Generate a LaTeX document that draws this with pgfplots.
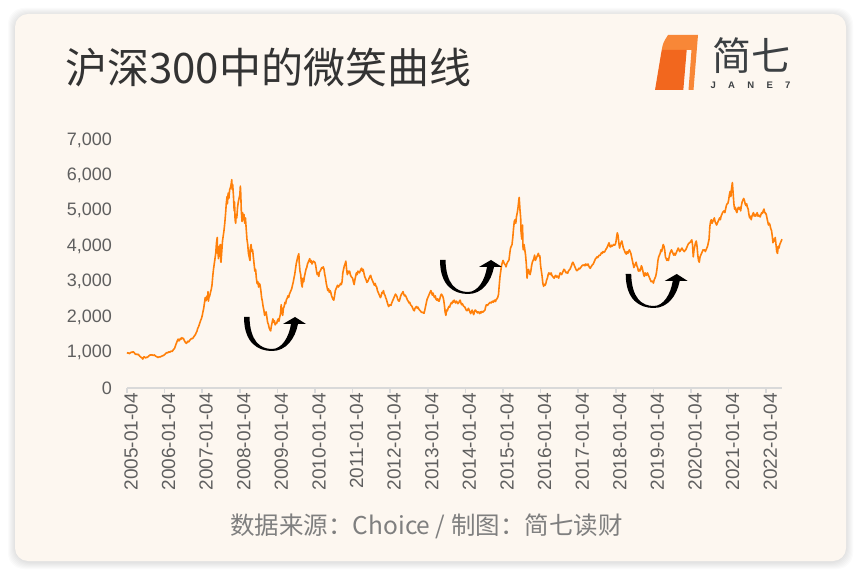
\documentclass[border=0pt]{standalone}
\usepackage{pgfplots}
\pgfplotsset{compat=1.18}
\usepackage{fontspec}
\setmainfont{Liberation Sans}
\newfontfamily\cjk{Noto Sans CJK SC}
\definecolor{cardbg}{RGB}{253,247,240}
\definecolor{lineor}{RGB}{255,128,10}
\definecolor{axgray}{RGB}{217,217,217}
\definecolor{lblgray}{RGB}{95,95,95}
\definecolor{titlec}{RGB}{51,51,51}
\definecolor{srcgray}{RGB}{127,127,127}
\definecolor{logoA}{RGB}{242,103,30}
\definecolor{logoB}{RGB}{248,135,55}
\definecolor{logotxt}{RGB}{60,64,67}
\begin{document}
\begin{tikzpicture}[x=1pt,y=1pt]
\path[use as bounding box] (0,0) rectangle (861,575);
\fill[white] (0,0) rectangle (861,575);
\foreach \i in {1,...,7} {
  \fill[black,opacity=0.014,rounded corners=16pt] (15-\i,14-\i-1) rectangle (846+\i,561+\i-1);
}
\fill[cardbg,rounded corners=13pt] (15,14) rectangle (846,561);
% title
\node[anchor=west,inner sep=0pt,text=titlec,font=\cjk\fontsize{42}{42}\selectfont] at (65,508) {沪深300中的微笑曲线};
% logo
\fill[logoB] (668,540) -- (698,540) -- (693.5,485) -- (688.5,485) -- (691.5,525) -- (661.7,525) .. controls (663,532) .. (668,540) -- cycle;
\fill[logoA] (661.7,525) -- (686.7,525) -- (683.3,485) -- (655,485) -- cycle;
\node[inner sep=0pt,text=logotxt,font=\cjk\fontsize{39}{39}\selectfont] at (751,519.5) {简七};
\node[inner sep=0pt,text=logotxt,font=\bfseries\fontsize{9.5}{9.5}\selectfont] at (750.5,490) {\makebox[80pt][s]{J\hfill A\hfill N\hfill E\hfill 7}};
% source
\node[inner sep=0pt,text=srcgray,font=\cjk\fontsize{24.5}{24.5}\selectfont] at (426.5,49) {数据来源：Choice / 制图：简七读财};
\begin{axis}[
  at={(127pt,187pt)}, anchor=south west, scale only axis,
  width=655pt, height=248pt,
  xmin=2005, xmax=2022.42, ymin=0, ymax=7000,
  axis x line=bottom, axis y line=left,
  x axis line style={-,draw=axgray,line width=1.6pt},
  y axis line style={draw=none},
  xtick={2005,2006,...,2022},
  xticklabels={2005-01-04,2006-01-04,2007-01-04,2008-01-04,2009-01-04,2010-01-04,2011-01-04,2012-01-04,2013-01-04,2014-01-04,2015-01-04,2016-01-04,2017-01-04,2018-01-04,2019-01-04,2020-01-04,2021-01-04,2022-01-04},
  ytick={0,1000,...,7000},
  xtick style={draw=axgray,line width=1.6pt},
  ytick style={draw=none},
  tick align=outside, major tick length=5pt,
  /pgf/number format/assume math mode=true,
  /pgf/number format/1000 sep={,},
  scaled y ticks=false,
  yticklabel style={font=\fontsize{18}{18}\selectfont,text=lblgray,inner sep=0pt,anchor=east,xshift=-10pt},
  xticklabel style={font=\fontsize{19}{19}\selectfont,text=lblgray,inner sep=0pt,rotate=90,anchor=east,yshift=-4pt},
  clip=false,
]
\addplot[color=lineor,line width=1.6pt,line join=round] coordinates {
(2005.00,1000)(2005.02,985)(2005.04,990)(2005.06,970)(2005.08,985)(2005.10,1000)(2005.12,1015)(2005.14,1000)(2005.16,1025)(2005.18,1010)
(2005.20,985)(2005.22,960)(2005.24,945)(2005.26,960)(2005.28,940)(2005.30,955)(2005.32,925)(2005.34,895)(2005.36,880)(2005.38,860)
(2005.40,845)(2005.42,815)(2005.44,870)(2005.46,880)(2005.48,860)(2005.50,850)(2005.52,870)(2005.54,865)(2005.56,880)(2005.58,905)
(2005.60,920)(2005.62,935)(2005.64,925)(2005.66,940)(2005.68,930)(2005.70,915)(2005.72,935)(2005.74,920)(2005.76,900)(2005.78,890)
(2005.80,880)(2005.82,860)(2005.84,870)(2005.86,880)(2005.88,875)(2005.90,885)(2005.92,900)(2005.94,905)(2005.96,915)(2005.98,925)
(2006.02,960)(2006.04,985)(2006.06,1000)(2006.08,990)(2006.10,1010)(2006.12,1025)(2006.14,1010)(2006.16,1030)(2006.18,1045)(2006.20,1030)
(2006.22,1060)(2006.24,1090)(2006.26,1110)(2006.28,1160)(2006.30,1230)(2006.32,1280)(2006.34,1340)(2006.36,1380)(2006.38,1330)(2006.40,1350)
(2006.42,1400)(2006.44,1380)(2006.46,1420)(2006.48,1390)(2006.50,1400)(2006.52,1350)(2006.54,1310)(2006.56,1280)(2006.58,1260)(2006.60,1290)
(2006.62,1320)(2006.64,1300)(2006.66,1330)(2006.68,1360)(2006.70,1380)(2006.72,1400)(2006.74,1390)(2006.76,1420)(2006.78,1450)(2006.80,1480)
(2006.82,1510)(2006.84,1560)(2006.86,1600)(2006.88,1680)(2006.90,1720)(2006.92,1780)(2006.94,1850)(2006.96,1910)(2006.98,1960)
(2007.00,2040)(2007.02,2150)(2007.04,2250)(2007.06,2400)(2007.08,2550)(2007.10,2460)(2007.12,2590)(2007.14,2500)(2007.155,2720)(2007.165,2450)
(2007.18,2560)(2007.20,2600)(2007.22,2700)(2007.24,2780)(2007.26,2900)(2007.28,3150)(2007.30,3350)(2007.32,3500)(2007.34,3650)(2007.36,3800)
(2007.38,4100)(2007.40,4250)(2007.41,3800)(2007.42,4000)(2007.43,3650)(2007.44,3850)(2007.46,3950)(2007.48,4050)(2007.49,3600)(2007.50,3550)
(2007.52,3850)(2007.54,4150)(2007.56,4300)(2007.58,4450)(2007.60,4650)(2007.62,4900)(2007.64,5200)(2007.66,5400)(2007.67,5200)(2007.69,5500)
(2007.71,5350)(2007.73,5600)(2007.75,5650)(2007.77,5750)(2007.785,5880)(2007.80,5600)(2007.81,5750)(2007.83,5450)(2007.85,5000)(2007.86,5250)
(2007.875,4750)(2007.89,4650)(2007.90,4900)(2007.92,4800)(2007.94,5100)(2007.96,5250)(2007.98,5350)
(2008.00,5450)(2008.015,5700)(2008.025,5500)(2008.04,5000)(2008.06,4700)(2008.075,4950)(2008.09,4750)(2008.11,4900)(2008.13,4650)(2008.15,4800)
(2008.17,4500)(2008.19,4200)(2008.21,4050)(2008.23,3800)(2008.25,3700)(2008.27,3600)(2008.28,3950)(2008.30,4050)(2008.32,3850)(2008.34,3900)
(2008.36,3700)(2008.38,3500)(2008.40,3300)(2008.42,3350)(2008.44,3100)(2008.46,2950)(2008.48,3000)(2008.50,2850)(2008.52,2950)(2008.54,2900)
(2008.56,2750)(2008.58,2550)(2008.60,2450)(2008.62,2300)(2008.64,2200)(2008.66,2050)(2008.68,2100)(2008.70,2150)(2008.72,2000)(2008.74,1850)
(2008.76,1800)(2008.78,1700)(2008.80,1650)(2008.82,1610)(2008.84,1750)(2008.86,1850)(2008.88,1950)(2008.90,1850)(2008.92,1900)(2008.94,1780)
(2008.96,1830)(2008.98,1820)
(2009.00,1900)(2009.02,1950)(2009.04,1880)(2009.06,2000)(2009.08,2080)(2009.10,2350)(2009.12,2150)(2009.14,2050)(2009.16,2250)(2009.18,2300)
(2009.20,2420)(2009.22,2380)(2009.24,2500)(2009.26,2530)(2009.28,2600)(2009.30,2560)(2009.32,2650)(2009.34,2700)(2009.36,2750)(2009.38,2800)
(2009.40,2900)(2009.42,2980)(2009.44,3100)(2009.46,3200)(2009.48,3350)(2009.50,3500)(2009.52,3600)(2009.54,3700)(2009.57,3790)(2009.58,3550)
(2009.60,3300)(2009.62,3200)(2009.64,2950)(2009.66,2850)(2009.68,3100)(2009.70,3000)(2009.72,3150)(2009.74,3250)(2009.76,3350)(2009.78,3400)
(2009.80,3500)(2009.82,3550)(2009.84,3600)(2009.86,3650)(2009.88,3550)(2009.90,3600)(2009.92,3500)(2009.94,3550)(2009.96,3580)(2009.98,3560)
(2010.00,3540)(2010.02,3450)(2010.04,3300)(2010.06,3200)(2010.08,3250)(2010.10,3150)(2010.12,3280)(2010.14,3300)(2010.16,3350)(2010.18,3400)
(2010.20,3380)(2010.22,3420)(2010.24,3350)(2010.26,3200)(2010.28,3100)(2010.30,2950)(2010.32,2850)(2010.34,2750)(2010.36,2800)(2010.38,2700)
(2010.40,2750)(2010.42,2700)(2010.44,2600)(2010.46,2550)(2010.48,2500)(2010.50,2480)(2010.52,2600)(2010.54,2750)(2010.56,2800)(2010.58,2850)
(2010.60,2900)(2010.62,2850)(2010.64,2880)(2010.66,2900)(2010.68,2950)(2010.70,2920)(2010.72,3000)(2010.74,3250)(2010.76,3350)(2010.78,3450)
(2010.80,3500)(2010.82,3580)(2010.84,3350)(2010.86,3200)(2010.88,3300)(2010.90,3250)(2010.92,3300)(2010.94,3200)(2010.96,3150)(2010.98,3120)
(2011.00,3100)(2011.02,3000)(2011.04,2920)(2011.06,3050)(2011.08,3150)(2011.10,3250)(2011.12,3200)(2011.14,3300)(2011.16,3270)(2011.18,3250)
(2011.20,3300)(2011.22,3350)(2011.24,3380)(2011.26,3300)(2011.28,3350)(2011.30,3250)(2011.32,3150)(2011.34,3100)(2011.36,3050)(2011.38,2980)
(2011.40,3000)(2011.42,3050)(2011.44,3100)(2011.46,3150)(2011.48,3180)(2011.50,3100)(2011.52,3050)(2011.54,3000)(2011.56,2950)(2011.58,2900)
(2011.60,2950)(2011.62,2880)(2011.64,2850)(2011.66,2750)(2011.68,2700)(2011.70,2650)(2011.72,2600)(2011.74,2550)(2011.76,2600)(2011.78,2700)
(2011.80,2680)(2011.82,2750)(2011.84,2650)(2011.86,2620)(2011.88,2550)(2011.90,2500)(2011.92,2420)(2011.94,2350)(2011.96,2300)(2011.98,2340)
(2012.00,2350)(2012.02,2330)(2012.04,2400)(2012.06,2450)(2012.08,2500)(2012.10,2550)(2012.12,2600)(2012.14,2650)(2012.16,2620)(2012.18,2580)
(2012.20,2500)(2012.22,2460)(2012.24,2450)(2012.26,2520)(2012.28,2600)(2012.30,2650)(2012.32,2680)(2012.34,2720)(2012.36,2650)(2012.38,2600)
(2012.40,2620)(2012.42,2580)(2012.44,2530)(2012.46,2480)(2012.48,2450)(2012.50,2400)(2012.52,2420)(2012.54,2350)(2012.56,2330)(2012.58,2300)
(2012.60,2250)(2012.62,2200)(2012.64,2180)(2012.66,2250)(2012.68,2280)(2012.70,2300)(2012.72,2250)(2012.74,2280)(2012.76,2230)(2012.78,2200)
(2012.80,2180)(2012.82,2150)(2012.84,2130)(2012.86,2140)(2012.88,2120)(2012.90,2110)(2012.92,2200)(2012.94,2300)(2012.96,2400)(2012.98,2500)
(2013.00,2550)(2013.02,2600)(2013.04,2650)(2013.06,2700)(2013.08,2750)(2013.10,2700)(2013.12,2620)(2013.14,2680)(2013.16,2600)(2013.18,2550)
(2013.20,2600)(2013.22,2500)(2013.24,2480)(2013.26,2520)(2013.28,2460)(2013.30,2450)(2013.32,2520)(2013.34,2600)(2013.36,2650)(2013.38,2620)
(2013.40,2580)(2013.42,2500)(2013.44,2350)(2013.46,2150)(2013.48,2050)(2013.50,2200)(2013.52,2180)(2013.54,2250)(2013.56,2300)(2013.58,2280)
(2013.60,2350)(2013.62,2400)(2013.64,2380)(2013.66,2450)(2013.68,2420)(2013.70,2480)(2013.72,2440)(2013.74,2400)(2013.76,2450)(2013.78,2420)
(2013.80,2380)(2013.82,2400)(2013.84,2450)(2013.86,2480)(2013.88,2400)(2013.90,2350)(2013.92,2380)(2013.94,2330)(2013.96,2300)(2013.98,2290)
(2014.00,2250)(2014.02,2200)(2014.04,2180)(2014.06,2200)(2014.08,2250)(2014.10,2200)(2014.12,2150)(2014.14,2100)(2014.16,2150)(2014.18,2200)
(2014.20,2130)(2014.22,2070)(2014.24,2150)(2014.26,2200)(2014.28,2180)(2014.30,2150)(2014.32,2120)(2014.34,2150)(2014.36,2130)(2014.38,2100)
(2014.40,2150)(2014.42,2120)(2014.44,2160)(2014.46,2140)(2014.48,2160)(2014.50,2180)(2014.52,2200)(2014.54,2300)(2014.56,2350)(2014.58,2330)
(2014.60,2350)(2014.62,2380)(2014.64,2400)(2014.66,2420)(2014.68,2400)(2014.70,2430)(2014.72,2450)(2014.74,2420)(2014.76,2460)(2014.78,2480)
(2014.80,2440)(2014.82,2500)(2014.84,2520)(2014.86,2560)(2014.88,2640)(2014.90,2900)(2014.92,3150)(2014.94,3300)(2014.96,3450)(2014.98,3530)
(2015.00,3600)(2015.02,3550)(2015.04,3500)(2015.06,3480)(2015.08,3420)(2015.10,3500)(2015.12,3550)(2015.14,3580)(2015.16,3620)(2015.18,3800)
(2015.20,3950)(2015.22,4000)(2015.24,4050)(2015.26,4250)(2015.28,4500)(2015.30,4700)(2015.32,4750)(2015.34,4650)(2015.36,4850)(2015.38,4950)
(2015.40,5100)(2015.42,5300)(2015.43,5380)(2015.45,5050)(2015.47,4800)(2015.48,4400)(2015.50,4200)(2015.52,4600)(2015.53,4000)(2015.54,3900)
(2015.56,4050)(2015.58,3900)(2015.60,3750)(2015.62,3500)(2015.64,3100)(2015.66,3300)(2015.68,3350)(2015.70,3250)(2015.72,3200)(2015.74,3300)
(2015.76,3450)(2015.78,3550)(2015.80,3600)(2015.82,3650)(2015.84,3750)(2015.86,3600)(2015.88,3650)(2015.90,3700)(2015.92,3750)(2015.94,3800)
(2015.96,3720)(2015.98,3730)
(2016.00,3450)(2016.02,3300)(2016.04,3150)(2016.06,2950)(2016.08,2870)(2016.10,2930)(2016.12,2900)(2016.14,2950)(2016.16,3050)(2016.18,3100)
(2016.20,3200)(2016.22,3250)(2016.24,3220)(2016.26,3200)(2016.28,3250)(2016.30,3180)(2016.32,3150)(2016.34,3120)(2016.36,3100)(2016.38,3150)
(2016.40,3180)(2016.42,3130)(2016.44,3160)(2016.46,3140)(2016.48,3100)(2016.50,3180)(2016.52,3250)(2016.54,3230)(2016.56,3200)(2016.58,3250)
(2016.60,3300)(2016.62,3350)(2016.64,3330)(2016.66,3280)(2016.68,3250)(2016.70,3270)(2016.72,3240)(2016.74,3300)(2016.76,3330)(2016.78,3350)
(2016.80,3400)(2016.82,3450)(2016.84,3520)(2016.86,3550)(2016.88,3500)(2016.90,3450)(2016.92,3400)(2016.94,3350)(2016.96,3310)(2016.98,3320)
(2017.00,3350)(2017.02,3380)(2017.04,3360)(2017.06,3390)(2017.08,3420)(2017.10,3450)(2017.12,3470)(2017.14,3460)(2017.16,3480)(2017.18,3450)
(2017.20,3500)(2017.22,3480)(2017.24,3460)(2017.26,3500)(2017.28,3450)(2017.30,3400)(2017.32,3380)(2017.34,3420)(2017.36,3450)(2017.38,3480)
(2017.40,3500)(2017.42,3550)(2017.44,3600)(2017.46,3650)(2017.48,3670)(2017.50,3700)(2017.52,3680)(2017.54,3720)(2017.56,3750)(2017.58,3740)
(2017.60,3780)(2017.62,3820)(2017.64,3800)(2017.66,3850)(2017.68,3830)(2017.70,3840)(2017.72,3880)(2017.74,3920)(2017.76,3950)(2017.78,4000)
(2017.80,4050)(2017.82,4100)(2017.84,4000)(2017.86,3980)(2017.88,4030)(2017.90,4000)(2017.92,4020)(2017.94,4050)(2017.96,4030)(2017.98,4040)
(2018.00,4100)(2018.02,4250)(2018.04,4380)(2018.06,4300)(2018.08,4100)(2018.10,3950)(2018.12,4050)(2018.14,4100)(2018.16,4150)(2018.18,4050)
(2018.20,3950)(2018.22,3900)(2018.24,3850)(2018.26,3800)(2018.28,3780)(2018.30,3850)(2018.32,3800)(2018.34,3850)(2018.36,3900)(2018.38,3850)
(2018.40,3800)(2018.42,3700)(2018.44,3600)(2018.46,3500)(2018.48,3400)(2018.50,3450)(2018.52,3500)(2018.54,3550)(2018.56,3450)(2018.58,3400)
(2018.60,3300)(2018.62,3350)(2018.64,3300)(2018.66,3350)(2018.68,3450)(2018.70,3400)(2018.72,3300)(2018.74,3200)(2018.76,3150)(2018.78,3250)
(2018.80,3200)(2018.82,3180)(2018.84,3250)(2018.86,3200)(2018.88,3150)(2018.90,3100)(2018.92,3050)(2018.94,3000)(2018.96,3020)(2018.98,3010)
(2019.00,2960)(2019.02,3050)(2019.04,3100)(2019.06,3150)(2019.08,3250)(2019.10,3400)(2019.12,3600)(2019.14,3700)(2019.16,3750)(2019.18,3800)
(2019.20,3900)(2019.22,3850)(2019.24,3950)(2019.26,4050)(2019.28,4000)(2019.30,3900)(2019.32,3700)(2019.34,3650)(2019.36,3600)(2019.38,3650)
(2019.40,3600)(2019.42,3700)(2019.44,3800)(2019.46,3850)(2019.48,3900)(2019.50,3850)(2019.52,3800)(2019.54,3750)(2019.56,3800)(2019.58,3750)
(2019.60,3800)(2019.62,3850)(2019.64,3900)(2019.66,3950)(2019.68,3900)(2019.70,3850)(2019.72,3880)(2019.74,3920)(2019.76,3950)(2019.78,3900)
(2019.80,3880)(2019.82,3850)(2019.84,3880)(2019.86,3900)(2019.88,3950)(2019.90,4000)(2019.92,4050)(2019.94,4080)(2019.96,4100)(2019.98,4110)
(2020.00,4150)(2020.02,4180)(2020.04,4050)(2020.06,3700)(2020.08,3900)(2020.10,4000)(2020.12,4100)(2020.14,4150)(2020.16,4000)(2020.18,3750)
(2020.20,3600)(2020.22,3550)(2020.24,3700)(2020.26,3750)(2020.28,3800)(2020.30,3850)(2020.32,3900)(2020.34,3880)(2020.36,3900)(2020.38,3850)
(2020.40,3900)(2020.42,3950)(2020.44,4000)(2020.46,4100)(2020.48,4200)(2020.50,4550)(2020.52,4700)(2020.54,4750)(2020.56,4650)(2020.58,4700)
(2020.60,4750)(2020.62,4800)(2020.64,4700)(2020.66,4650)(2020.68,4600)(2020.70,4650)(2020.72,4700)(2020.74,4750)(2020.76,4800)(2020.78,4750)
(2020.80,4850)(2020.82,4900)(2020.84,4950)(2020.86,4980)(2020.88,5000)(2020.90,4950)(2020.92,5050)(2020.94,5150)(2020.96,5200)(2020.98,5210)
(2021.00,5300)(2021.02,5450)(2021.04,5550)(2021.06,5400)(2021.08,5650)(2021.10,5800)(2021.12,5500)(2021.14,5200)(2021.16,5050)(2021.18,5100)
(2021.20,5000)(2021.22,4950)(2021.24,5050)(2021.26,5100)(2021.28,5050)(2021.30,5100)(2021.32,5000)(2021.34,5150)(2021.36,5250)(2021.38,5300)
(2021.40,5350)(2021.42,5300)(2021.44,5200)(2021.46,5150)(2021.48,5200)(2021.50,5100)(2021.52,5050)(2021.54,4900)(2021.56,4800)(2021.58,4850)
(2021.60,4750)(2021.62,4850)(2021.64,4900)(2021.66,4950)(2021.68,4850)(2021.70,4900)(2021.72,4850)(2021.74,4900)(2021.76,4950)(2021.78,4850)
(2021.80,4880)(2021.82,4850)(2021.84,4830)(2021.86,4900)(2021.88,4950)(2021.90,4930)(2021.92,5000)(2021.94,5050)(2021.96,4950)(2021.98,4940)
(2022.00,4900)(2022.02,4800)(2022.04,4700)(2022.06,4600)(2022.08,4650)(2022.10,4600)(2022.12,4500)(2022.14,4450)(2022.16,4300)(2022.18,4100)
(2022.20,4200)(2022.22,4150)(2022.24,4250)(2022.26,4050)(2022.28,3850)(2022.30,3800)(2022.32,4000)(2022.34,3950)(2022.36,4050)(2022.38,4100)
(2022.40,4150)(2022.42,4200)
};
\end{axis}
% smile arrows
\foreach \ox/\oy in {244/258, 440/315, 625.7/301} {
  \begin{scope}[shift={(\ox,\oy)}]
  \fill[black] (0,0) .. controls (0,-26) and (14,-34) .. (28,-34) .. controls (42,-34) and (51,-22) .. (54,-7)
    -- (62,-7) -- (51,0) -- (39,-7) -- (47,-7) .. controls (45,-20) and (38,-32) .. (28,-32)
    .. controls (16,-32) and (6,-24) .. (5.5,0) -- cycle;
  \end{scope}
}
\end{tikzpicture}
\end{document}
